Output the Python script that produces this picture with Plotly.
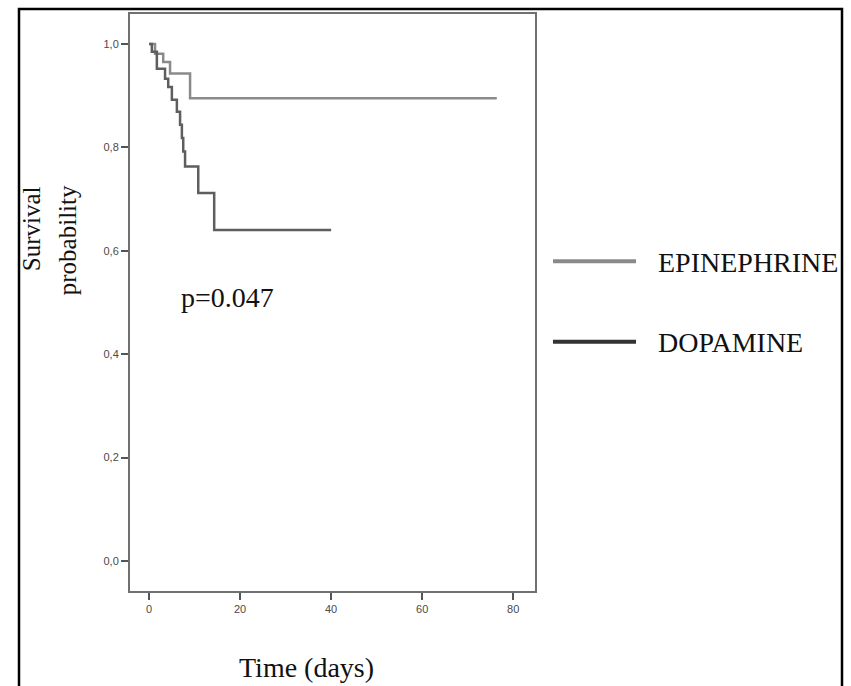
import plotly.graph_objects as go

# Kaplan-Meier step data
epi_time = [0, 1.3, 3.1, 4.6, 9.0, 76.4]
epi_surv = [1.0, 0.981, 0.965, 0.943, 0.895, 0.895]

dopa_time = [0, 0.6, 1.7, 3.5, 4.2, 5.0, 6.1, 6.8, 7.2, 7.5, 7.9, 10.8, 14.3, 40.0]
dopa_surv = [1.0, 0.985, 0.952, 0.933, 0.917, 0.892, 0.869, 0.844, 0.818, 0.792, 0.763, 0.712, 0.640, 0.640]

x_ticks = [0, 20, 40, 60, 80]
y_ticks = [0.0, 0.2, 0.4, 0.6, 0.8, 1.0]
y_tick_labels = ["0,0", "0,2", "0,4", "0,6", "0,8", "1,0"]

series_names = ["EPINEPHRINE", "DOPAMINE"]
series_colors = ["#8a8a8a", "#5e5e5e"]
legend_colors = ["#8a8a8a", "#333333"]
p_text = "p=0.047"

W, H = 851, 686
L, R, T, B = 130, 535, 12, 591


def px(x):
    return (x - L) / (R - L)


def py(y):
    return (B - y) / (B - T)


fig = go.Figure()
fig.add_trace(go.Scatter(x=epi_time, y=epi_surv, mode="lines", line_shape="hv",
                         name=series_names[0],
                         line=dict(color=series_colors[0], width=2.5)))
fig.add_trace(go.Scatter(x=dopa_time, y=dopa_surv, mode="lines", line_shape="hv",
                         name=series_names[1],
                         line=dict(color=series_colors[1], width=2.5)))

serif = "Liberation Serif, Times New Roman, serif"
tickfont = dict(family="Liberation Sans Narrow, Liberation Sans, Arial, sans-serif",
                size=11, color="#4a4a4a")

fig.update_layout(
    width=W, height=H,
    margin=dict(l=L, r=W - R, t=T, b=H - B),
    paper_bgcolor="white", plot_bgcolor="white",
    showlegend=False,
    xaxis=dict(range=[-4.2, 84.8], tickvals=x_ticks, ticktext=[str(v) for v in x_ticks],
               showgrid=False, zeroline=False, showline=True, mirror=True,
               linecolor="#707070", linewidth=2, ticks="outside", ticklen=7,
               tickwidth=2, tickcolor="#555555", tickfont=tickfont),
    yaxis=dict(range=[-0.058, 1.058], tickvals=y_ticks, ticktext=y_tick_labels,
               showgrid=False, zeroline=False, showline=True, mirror=True,
               linecolor="#707070", linewidth=2, ticks="outside", ticklen=7,
               tickwidth=2, tickcolor="#555555", tickfont=tickfont),
)

# Outer frame
fig.add_shape(type="rect", xref="paper", yref="paper",
              x0=px(19), x1=px(842), y0=py(720), y1=py(7),
              line=dict(color="black", width=2.5), layer="above")

# Manual legend
for i, (name, col) in enumerate(zip(series_names, legend_colors)):
    yy = [260, 341][i]
    fig.add_shape(type="line", xref="paper", yref="paper",
                  x0=px(553), x1=px(636), y0=py(yy), y1=py(yy),
                  line=dict(color=col, width=4))
    fig.add_annotation(xref="paper", yref="paper", x=px(656), y=py(yy + 1),
                       xanchor="left", yanchor="middle", showarrow=False,
                       text=name, font=dict(family=serif, size=28, color="#111111"))

# p-value
fig.add_annotation(xref="x", yref="y", x=17.25, y=0.51, showarrow=False,
                   xanchor="center", yanchor="middle",
                   text=p_text, font=dict(family=serif, size=28, color="#111111"))

# Axis titles
fig.add_annotation(xref="paper", yref="paper", x=px(306), y=py(668), showarrow=False,
                   xanchor="center", yanchor="middle",
                   text="Time (days)", font=dict(family=serif, size=28, color="#111111"))
fig.add_annotation(xref="paper", yref="paper", x=px(31), y=py(228), showarrow=False,
                   xanchor="center", yanchor="middle",
                   textangle=-90, text="Survival",
                   font=dict(family=serif, size=25, color="#111111"))
fig.add_annotation(xref="paper", yref="paper", x=px(67), y=py(239), showarrow=False,
                   xanchor="center", yanchor="middle",
                   textangle=-90, text="probability",
                   font=dict(family=serif, size=25, color="#111111"))

fig.write_html("out.html",
               config={"displayModeBar": False},
               post_script="document.body.style.margin='0';document.body.style.overflow='hidden';")
